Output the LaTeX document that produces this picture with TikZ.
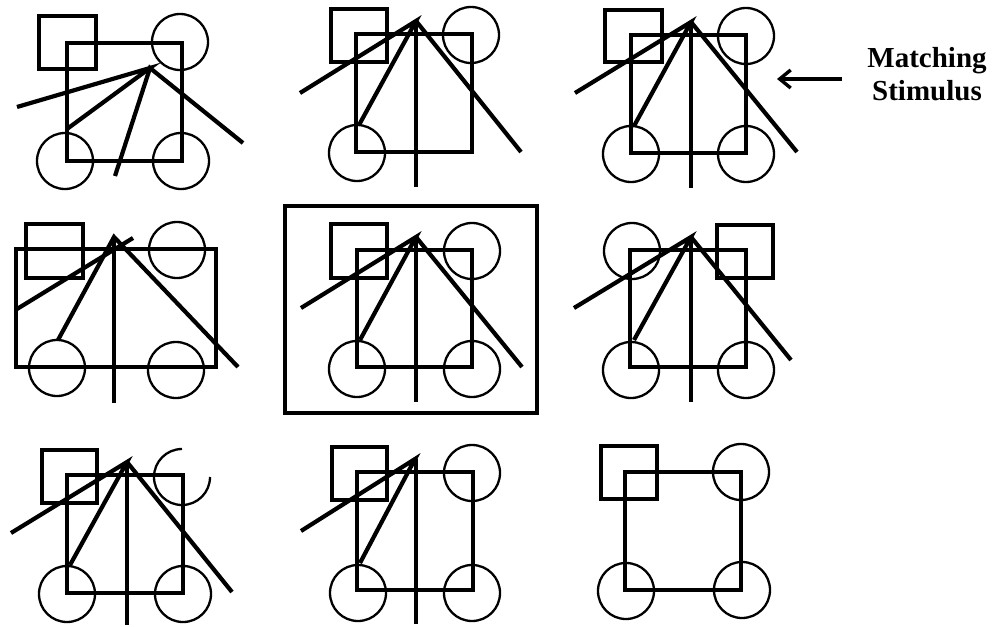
\documentclass[tikz,border=0pt]{standalone}
\usepackage{fontspec}
\setmainfont{Liberation Serif}
\usetikzlibrary{arrows.meta}
\begin{document}
\begin{tikzpicture}[x=1pt,y=-1pt,
  thickln/.style={line width=4.2pt},
  ring/.style={line width=2.3pt},
  frame/.style={line width=3.8pt},
  lbl/.style={font=\fontsize{29}{33}\selectfont\bfseries, inner sep=0pt, anchor=base}]
\useasboundingbox (0,0) rectangle (995,626);
% ---------- Figure 1 ----------
\draw[thickln] (39,16) rectangle (96,69);
\draw[thickln] (67,43) rectangle (182,161);
\draw[ring] (180,42) circle[radius=28];
\draw[ring] (65,161) circle[radius=28];
\draw[ring] (181,161) circle[radius=28];
\draw[thickln] (17,107) -- (150,68) -- (67,129);
\draw[thickln] (115,176) -- (150,68) -- (243,143);
% ---------- Figure 2 ----------
\draw[thickln] (331,9) rectangle (387,62);
\draw[thickln] (356,34) rectangle (472,152);
\draw[ring] (471,35) circle[radius=28];
\draw[ring] (357,153) circle[radius=28];
\draw[thickln] (300,93) -- (416,21) -- (359,125);
\draw[thickln] (416,21) -- (416,187);
\draw[thickln] (416,21) -- (521,152);
% ---------- Figure 3 ----------
\draw[thickln] (605,10) rectangle (662,62);
\draw[thickln] (631,35) rectangle (746,153);
\draw[ring] (746,36) circle[radius=28];
\draw[ring] (631,154) circle[radius=28];
\draw[ring] (746,154) circle[radius=28];
\draw[thickln] (575,93) -- (691,22) -- (634,126);
\draw[thickln] (691,22) -- (691,188);
\draw[thickln] (691,22) -- (797,152);
% arrow and label
\coordinate (arrS) at (842,79);
\coordinate (arrE) at (777,79);
\draw[line width=3.6pt, -{Straight Barb[length=11pt,width=18pt,line width=3.4pt]}] (arrS) -- (arrE);
\node[lbl] (m1) at (927,67) {Matching};
\node[lbl] (m2) at (927,100) {Stimulus};
% ---------- Figure 4 ----------
\draw[thickln] (26,224) rectangle (83,278);
\draw[thickln] (16,249) rectangle (216,367);
\draw[ring] (177,250) circle[radius=28];
\draw[ring] (57,368) circle[radius=28];
\draw[ring] (176,370) circle[radius=28];
\draw[thickln] (17,309) -- (133,238);
\draw[thickln] (58,340) -- (114,237) -- (238,367);
\draw[thickln] (114,237) -- (114,403);
% ---------- Figure 5 ----------
\draw[frame] (285,206) rectangle (537,413);
\draw[thickln] (331,224) rectangle (387,278);
\draw[thickln] (357,250) rectangle (472,367);
\draw[ring] (472,251) circle[radius=28];
\draw[ring] (357,369) circle[radius=28];
\draw[ring] (472,369) circle[radius=28];
\draw[thickln] (301,308) -- (416,237) -- (360,340);
\draw[thickln] (416,237) -- (416,402);
\draw[thickln] (416,237) -- (522,367);
% ---------- Figure 6 ----------
\draw[ring] (632,251) circle[radius=28];
\draw[thickln] (717,225) rectangle (773,278);
\draw[thickln] (630,250) rectangle (746,367);
\draw[ring] (631,370) circle[radius=28];
\draw[ring] (746,370) circle[radius=28];
\draw[thickln] (574,308) -- (691,237) -- (634,340);
\draw[thickln] (691,237) -- (691,402);
\draw[thickln] (691,237) -- (791,360);
% ---------- Figure 7 ----------
\draw[thickln] (42,450) rectangle (97,503);
\draw[thickln] (67,475) rectangle (183,593);
\draw[ring] (182,449) arc[start angle=-90, end angle=-360, radius=28];
\draw[ring] (67,594) circle[radius=28];
\draw[ring] (183,594) circle[radius=28];
\draw[thickln] (11,533) -- (127,462) -- (70,565);
\draw[thickln] (127,462) -- (127,625);
\draw[thickln] (127,462) -- (232,592);
% ---------- Figure 8 ----------
\draw[thickln] (332,447) rectangle (387,500);
\draw[thickln] (357,472) rectangle (473,590);
\draw[ring] (472,473) circle[radius=28];
\draw[ring] (358,593) circle[radius=28];
\draw[ring] (472,593) circle[radius=28];
\draw[thickln] (301,531) -- (415,459) -- (360,563);
\draw[thickln] (416,459) -- (416,624);
% ---------- Figure 9 ----------
\draw[thickln] (601,446) rectangle (657,499);
\draw[thickln] (625,472) rectangle (741,590);
\draw[ring] (741,472) circle[radius=28];
\draw[ring] (626,591) circle[radius=28];
\draw[ring] (742,590) circle[radius=28];
\end{tikzpicture}
\end{document}
